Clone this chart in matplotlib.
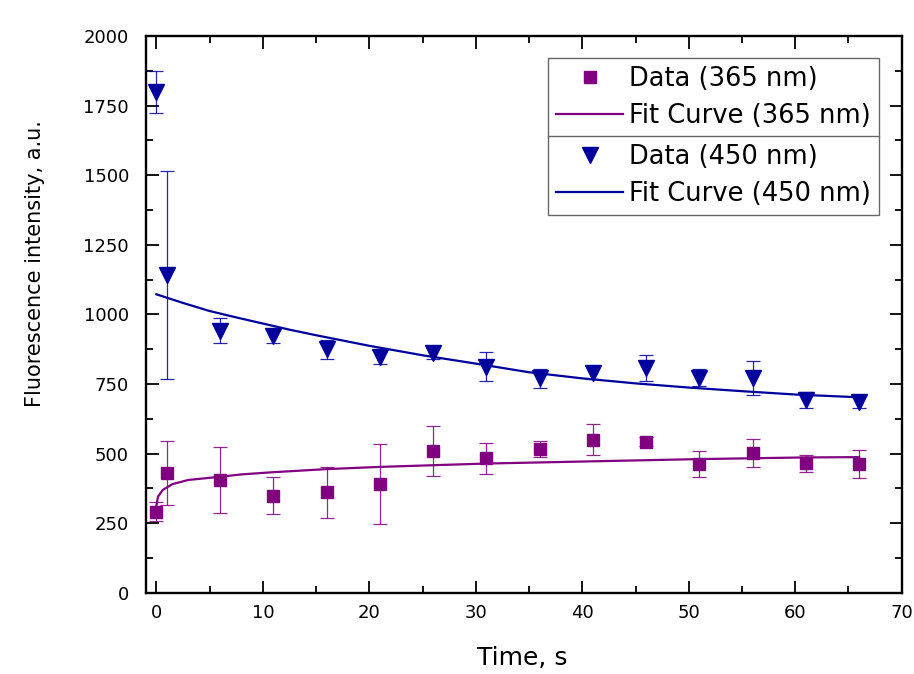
import numpy as np
import matplotlib
matplotlib.use("Agg")
import matplotlib.pyplot as plt
from matplotlib.ticker import MultipleLocator

# data
t_data = [0, 1, 6, 11, 16, 21, 26, 31, 36, 41, 46, 51, 56, 61, 66]

i365 = [291, 429, 405, 348, 361, 390, 510, 483, 516, 549, 543, 462, 503, 465, 462]
e365 = [35, 115, 120, 66, 92, 143, 90, 56, 30, 56, 15, 47, 50, 30, 50]

i450 = [1798, 1141, 941, 923, 874, 846, 860, 812, 770, 791, 806, 772, 772, 692, 686]
e450 = [75, 375, 45, 25, 35, 25, 22, 52, 33, 25, 47, 30, 60, 30, 22]

# fit curves
t_fit365 = [0, 0.15, 0.6, 1.5, 3, 5.6, 8, 11, 16, 21, 26, 31, 36, 41, 46, 51, 56, 61, 66]
y_fit365 = [310, 345, 369, 390, 405, 415, 425, 433, 444, 452, 458, 464, 468, 472, 476, 480, 483, 486, 487]

t_fit450 = [0, 2.5, 5, 7.5, 10, 12.5, 15, 20, 25, 30, 35, 40, 45, 50, 55, 60, 66]
y_fit450 = [1072, 1041, 1012, 989, 967, 945, 925, 887, 853, 823, 792, 770, 752, 737, 724, 712, 702]

purple = '#800080'
blue = '#00009C'

plt.rcParams['font.family'] = ['DejaVu Sans']

fig = plt.figure(figsize=(9.14, 6.74), dpi=100)
ax = fig.add_axes([145.7 / 914, 1 - 592.7 / 674, (901.7 - 145.7) / 914, (592.7 - 36) / 674])

# error bars
ax.errorbar(t_data, i365, yerr=e365, fmt='none', ecolor=purple, elinewidth=0.9,
            capsize=5, capthick=0.9, alpha=0.85, zorder=2)
ax.errorbar(t_data, i450, yerr=e450, fmt='none', ecolor=blue, elinewidth=0.9,
            capsize=5, capthick=0.9, alpha=0.85, zorder=2)

h1, = ax.plot(t_data, i365, 's', color=purple, ms=9, label='Data (365 nm)', zorder=3)
h2, = ax.plot(t_fit365, y_fit365, '-', color=purple, lw=1.6, label='Fit Curve (365 nm)', zorder=4)
h3, = ax.plot(t_data, i450, 'v', color=blue, ms=11, label='Data (450 nm)', zorder=3)
h4, = ax.plot(t_fit450, y_fit450, '-', color=blue, lw=1.6, label='Fit Curve (450 nm)', zorder=4)

ax.set_xlim(-1, 70)
ax.set_ylim(0, 2000)
ax.xaxis.set_major_locator(MultipleLocator(10))
ax.xaxis.set_minor_locator(MultipleLocator(5))
ax.yaxis.set_major_locator(MultipleLocator(250))
ax.yaxis.set_minor_locator(MultipleLocator(125))

ax.tick_params(which='both', direction='in', top=True, right=True, width=1.3)
ax.tick_params(which='major', length=9, labelsize=13)
ax.tick_params(which='minor', length=5)
ax.tick_params(axis='x', which='major', pad=8)
ax.tick_params(axis='y', which='major', pad=12)
for s in ax.spines.values():
    s.set_linewidth(1.7)

ax.set_xlabel('Time, s', fontsize=18, va='center')
ax.xaxis.set_label_coords(0.498, -0.117)
ax.set_ylabel('Fluorescence intensity, a.u.', fontsize=15, va='center')
ax.yaxis.set_label_coords(-0.146, 0.592)

leg_kw = dict(fontsize=18.5, frameon=True, fancybox=False, edgecolor='#666666',
              framealpha=1, handlelength=2.6, handletextpad=0.22, borderpad=0.33,
              labelspacing=0.4, borderaxespad=0, loc='upper left',
              bbox_transform=fig.transFigure)
leg1 = ax.legend(handles=[h1, h2], bbox_to_anchor=(548 / 914, 1 - 58 / 674), **leg_kw)
leg1.get_frame().set_linewidth(1.0)
ax.add_artist(leg1)
leg2 = ax.legend(handles=[h3, h4], bbox_to_anchor=(548 / 914, 1 - 136 / 674), **leg_kw)
leg2.get_frame().set_linewidth(1.0)

fig.savefig('out.png', dpi=100)
